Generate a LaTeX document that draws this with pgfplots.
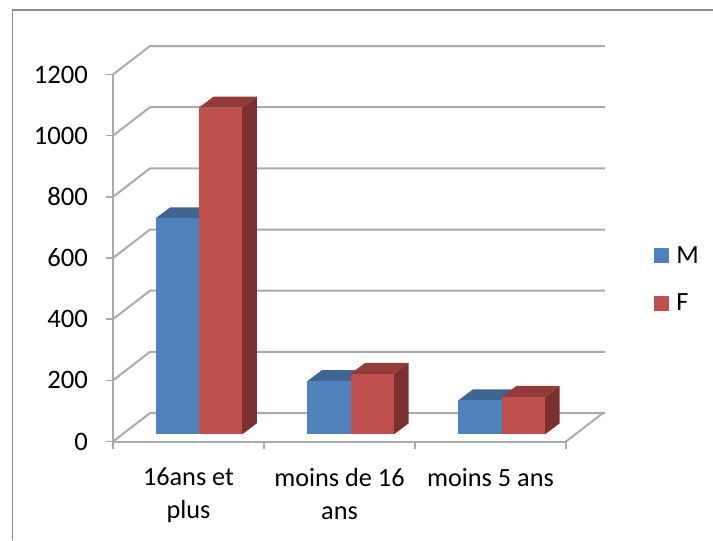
\documentclass[border=0pt]{standalone}
\usepackage{fontspec}
\setmainfont{Carlito}
\usepackage{pgfplots}
\pgfplotsset{compat=1.18}

\definecolor{bluefront}{HTML}{4F81BD}
\definecolor{bluetop}{HTML}{3F6592}
\definecolor{blueside}{HTML}{335577}
\definecolor{redfront}{HTML}{C0504D}
\definecolor{redtop}{HTML}{933B39}
\definecolor{redside}{HTML}{7B302E}
\definecolor{gridgray}{HTML}{ABABAB}
\definecolor{framegray}{HTML}{8C8C8C}

% depth of the walls and of the bars, in axis units
\def\wallx{0.245}
\def\wally{93}
\def\barbase{23.5}
\def\barw{0.287}
\def\sidex{0.097}
\def\sidey{36}

% one 3D bar: left edge, value, colour prefix
\newcommand\cube[3]{%
  \pgfmathsetmacro\xa{#1}%
  \pgfmathsetmacro\xb{#1+\barw}%
  \pgfmathsetmacro\xc{#1+\barw+\sidex}%
  \pgfmathsetmacro\xd{#1+\sidex}%
  \pgfmathsetmacro\ya{\barbase}%
  \pgfmathsetmacro\yb{\barbase+#2}%
  \pgfmathsetmacro\yc{\barbase+#2+\sidey}%
  \pgfmathsetmacro\ye{\barbase+\sidey}%
  \addplot[fill=#3side,draw=none,forget plot] coordinates {(\xb,\ya)(\xc,\ye)(\xc,\yc)(\xb,\yb)};
  \addplot[fill=#3top,draw=none,forget plot] coordinates {(\xa,\yb)(\xb,\yb)(\xc,\yc)(\xd,\yc)};
  \addplot[fill=#3front,draw=none,forget plot] coordinates {(\xa,\ya)(\xb,\ya)(\xb,\yb)(\xa,\yb)};
}

\begin{document}
\begin{tikzpicture}
  \useasboundingbox (0pt,0pt) rectangle (534.75pt,405pt);
  \draw[framegray,line width=1.1pt] (9.2pt,0pt) -- (9.2pt,397.5pt) -- (534.75pt,397.5pt);
  \begin{axis}[
    at={(84.75pt,73.875pt)}, anchor=south west,
    scale only axis, width=339.75pt, height=275.25pt,
    xmin=0, xmax=3, ymin=0, ymax=1200,
    clip=false,
    axis lines*=left,
    axis line style={gridgray,line width=1.5pt,-},
    tick style={gridgray,line width=1.2pt},
    tick align=outside,
    major tick length=5.25pt,
    ytick={0,200,400,600,800,1000,1200},
    xtick={0,1,2,3},
    xticklabels={},
    extra x ticks={0.5,1.5,2.5},
    extra x tick labels={16ans et\\plus,moins de 16\\ans,moins 5 ans},
    extra x tick style={major tick length=0pt,
      tick label style={font=\fontsize{19.7}{24.5}\selectfont,align=center,yshift=-16.5pt}},
    yticklabel style={font=\fontsize{20}{24}\selectfont,xshift=-10pt},
    /pgf/number format/assume math mode=true,
    /pgf/number format/set thousands separator={},
    legend style={at={(1.1944,0.54)},anchor=north west,draw=none,fill=none,
      font=\fontsize{19.7}{24}\selectfont,row sep=17.5pt,inner sep=0pt},
    legend cell align=left,
    legend image code/.code={\fill[#1] (0pt,-5.6pt) rectangle (11.25pt,5.6pt);
      \path (0pt,0pt) -- (14.5pt,0pt);},
  ]
    % walls: side wall diagonals and back wall lines
    \pgfplotsinvokeforeach{0,200,400,600,800,1000,1200}{
      \addplot[gridgray,line width=1.5pt,forget plot] coordinates {(0,#1)(\wallx,#1+\wally)(3.258,#1+\wally)};
    }
    % floor, right edge
    \addplot[gridgray,line width=1.5pt,forget plot] coordinates {(3,0)(3.245,93)};

    \cube{0.2815}{706}{blue}
    \cube{0.5685}{1068}{red}
    \cube{1.287}{174}{blue}
    \cube{1.574}{198}{red}
    \cube{2.287}{111}{blue}
    \cube{2.574}{122}{red}

    \addlegendimage{fill=bluefront,draw=none}
    \addlegendentry{M}
    \addlegendimage{fill=redfront,draw=none}
    \addlegendentry{F}
  \end{axis}
\end{tikzpicture}
\end{document}
